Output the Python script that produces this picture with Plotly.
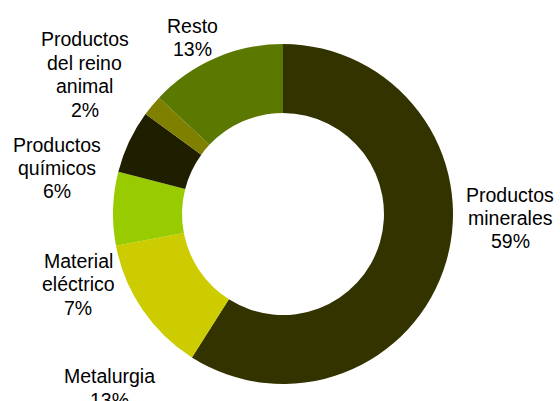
import plotly.graph_objects as go

categories = ["Productos minerales", "Metalurgia", "Material eléctrico",
              "Productos químicos", "Productos del reino animal", "Resto"]
values = [59, 13, 7, 6, 2, 13]
label_lines = [["Productos", "minerales"], ["Metalurgia"], ["Material", "eléctrico"],
               ["Productos", "químicos"], ["Productos", "del reino", "animal"], ["Resto"]]
colors = ["#333300", "#CCCC00", "#99CC00", "#1F1F00", "#7F7F00", "#5B7800"]

W, H = 560, 401
cx, cy, R = 283, 214, 170

# label block centre positions in pixels
label_pos = [(510, 218), (109, 388), (78, 284), (56.5, 168), (84.5, 74.7), (192.5, 37.5)]
LINE = 23.5
FONT = dict(family="Liberation Sans, Arial, sans-serif", size=19.5, color="#000000")

fig = go.Figure(go.Pie(
    labels=categories, values=values, hole=0.594, sort=False,
    direction="clockwise", rotation=0,
    marker=dict(colors=colors, line=dict(width=0)),
    textinfo="none", hoverinfo="label+percent", showlegend=False,
    domain=dict(x=[(cx - R) / W, (cx + R) / W],
                y=[(H - cy - R) / H, (H - cy + R) / H]),
))

total = sum(values)
for lines, v, (px, py) in zip(label_lines, values, label_pos):
    all_lines = lines + [f"{round(v / total * 100)}%"]
    n = len(all_lines)
    for i, t in enumerate(all_lines):
        ly = py + (i - (n - 1) / 2) * LINE
        fig.add_annotation(
            x=px / W, y=1 - ly / H, xref="paper", yref="paper",
            text=t, showarrow=False, xanchor="center", yanchor="middle",
            font=FONT,
        )

fig.update_layout(width=W, height=H, margin=dict(l=0, r=0, t=0, b=0),
                  paper_bgcolor="white", plot_bgcolor="white")
fig.write_html("out.html", config={"displayModeBar": False},
               post_script="document.body.style.margin='0';document.body.style.overflow='hidden';")
